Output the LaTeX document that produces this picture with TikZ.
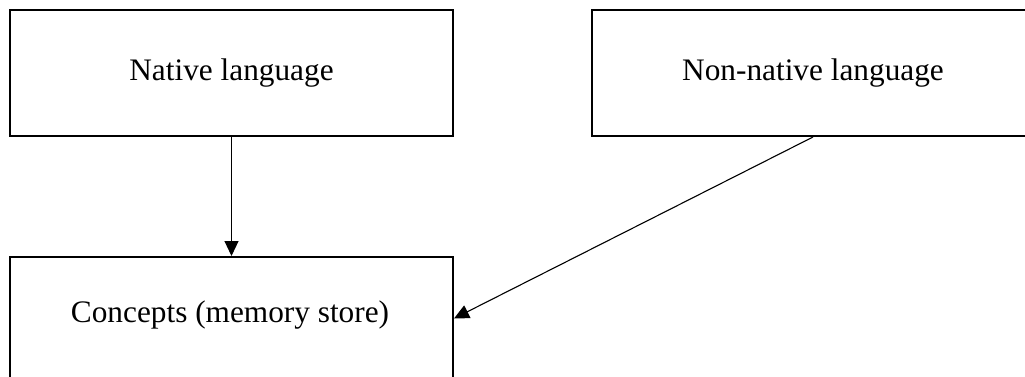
\documentclass[tikz,border=0pt]{standalone}
\usepackage{fontspec}
\setmainfont{Liberation Serif}
\usetikzlibrary{arrows.meta,calc}
\begin{document}
\begin{tikzpicture}[x=1pt,y=-1pt,
  langbox/.style={draw=black,line width=2pt,minimum width=443pt,minimum height=126pt,inner sep=0pt},
  boxtext/.style={font=\fontsize{31.3}{36}\selectfont,inner sep=0pt},
  link/.style={draw=black,line width=1.1pt,-{Triangle[length=15pt,width=14pt]}}]
  \useasboundingbox (0,0) rectangle (1025,377);
  \clip (0,0) rectangle (1025,377);
  % language boxes
  \node[langbox] (native) at (231.5,73) {};
  \node[langbox] (nonnative) at (813,73) {};
  \node[langbox,minimum height=123pt] (concepts) at (231.5,318.5) {};
  % labels
  \node[boxtext] (nativetxt) at (native) {Native language};
  \node[boxtext] (nonnativetxt) at (nonnative) {Non-native language};
  \node[boxtext] (conceptstxt) at (230,315) {Concepts (memory store)};
  % links
  \draw[link] (native.south) -- (concepts.north);
  \draw[link] (nonnative.south) -- (concepts.east);
\end{tikzpicture}
\end{document}
